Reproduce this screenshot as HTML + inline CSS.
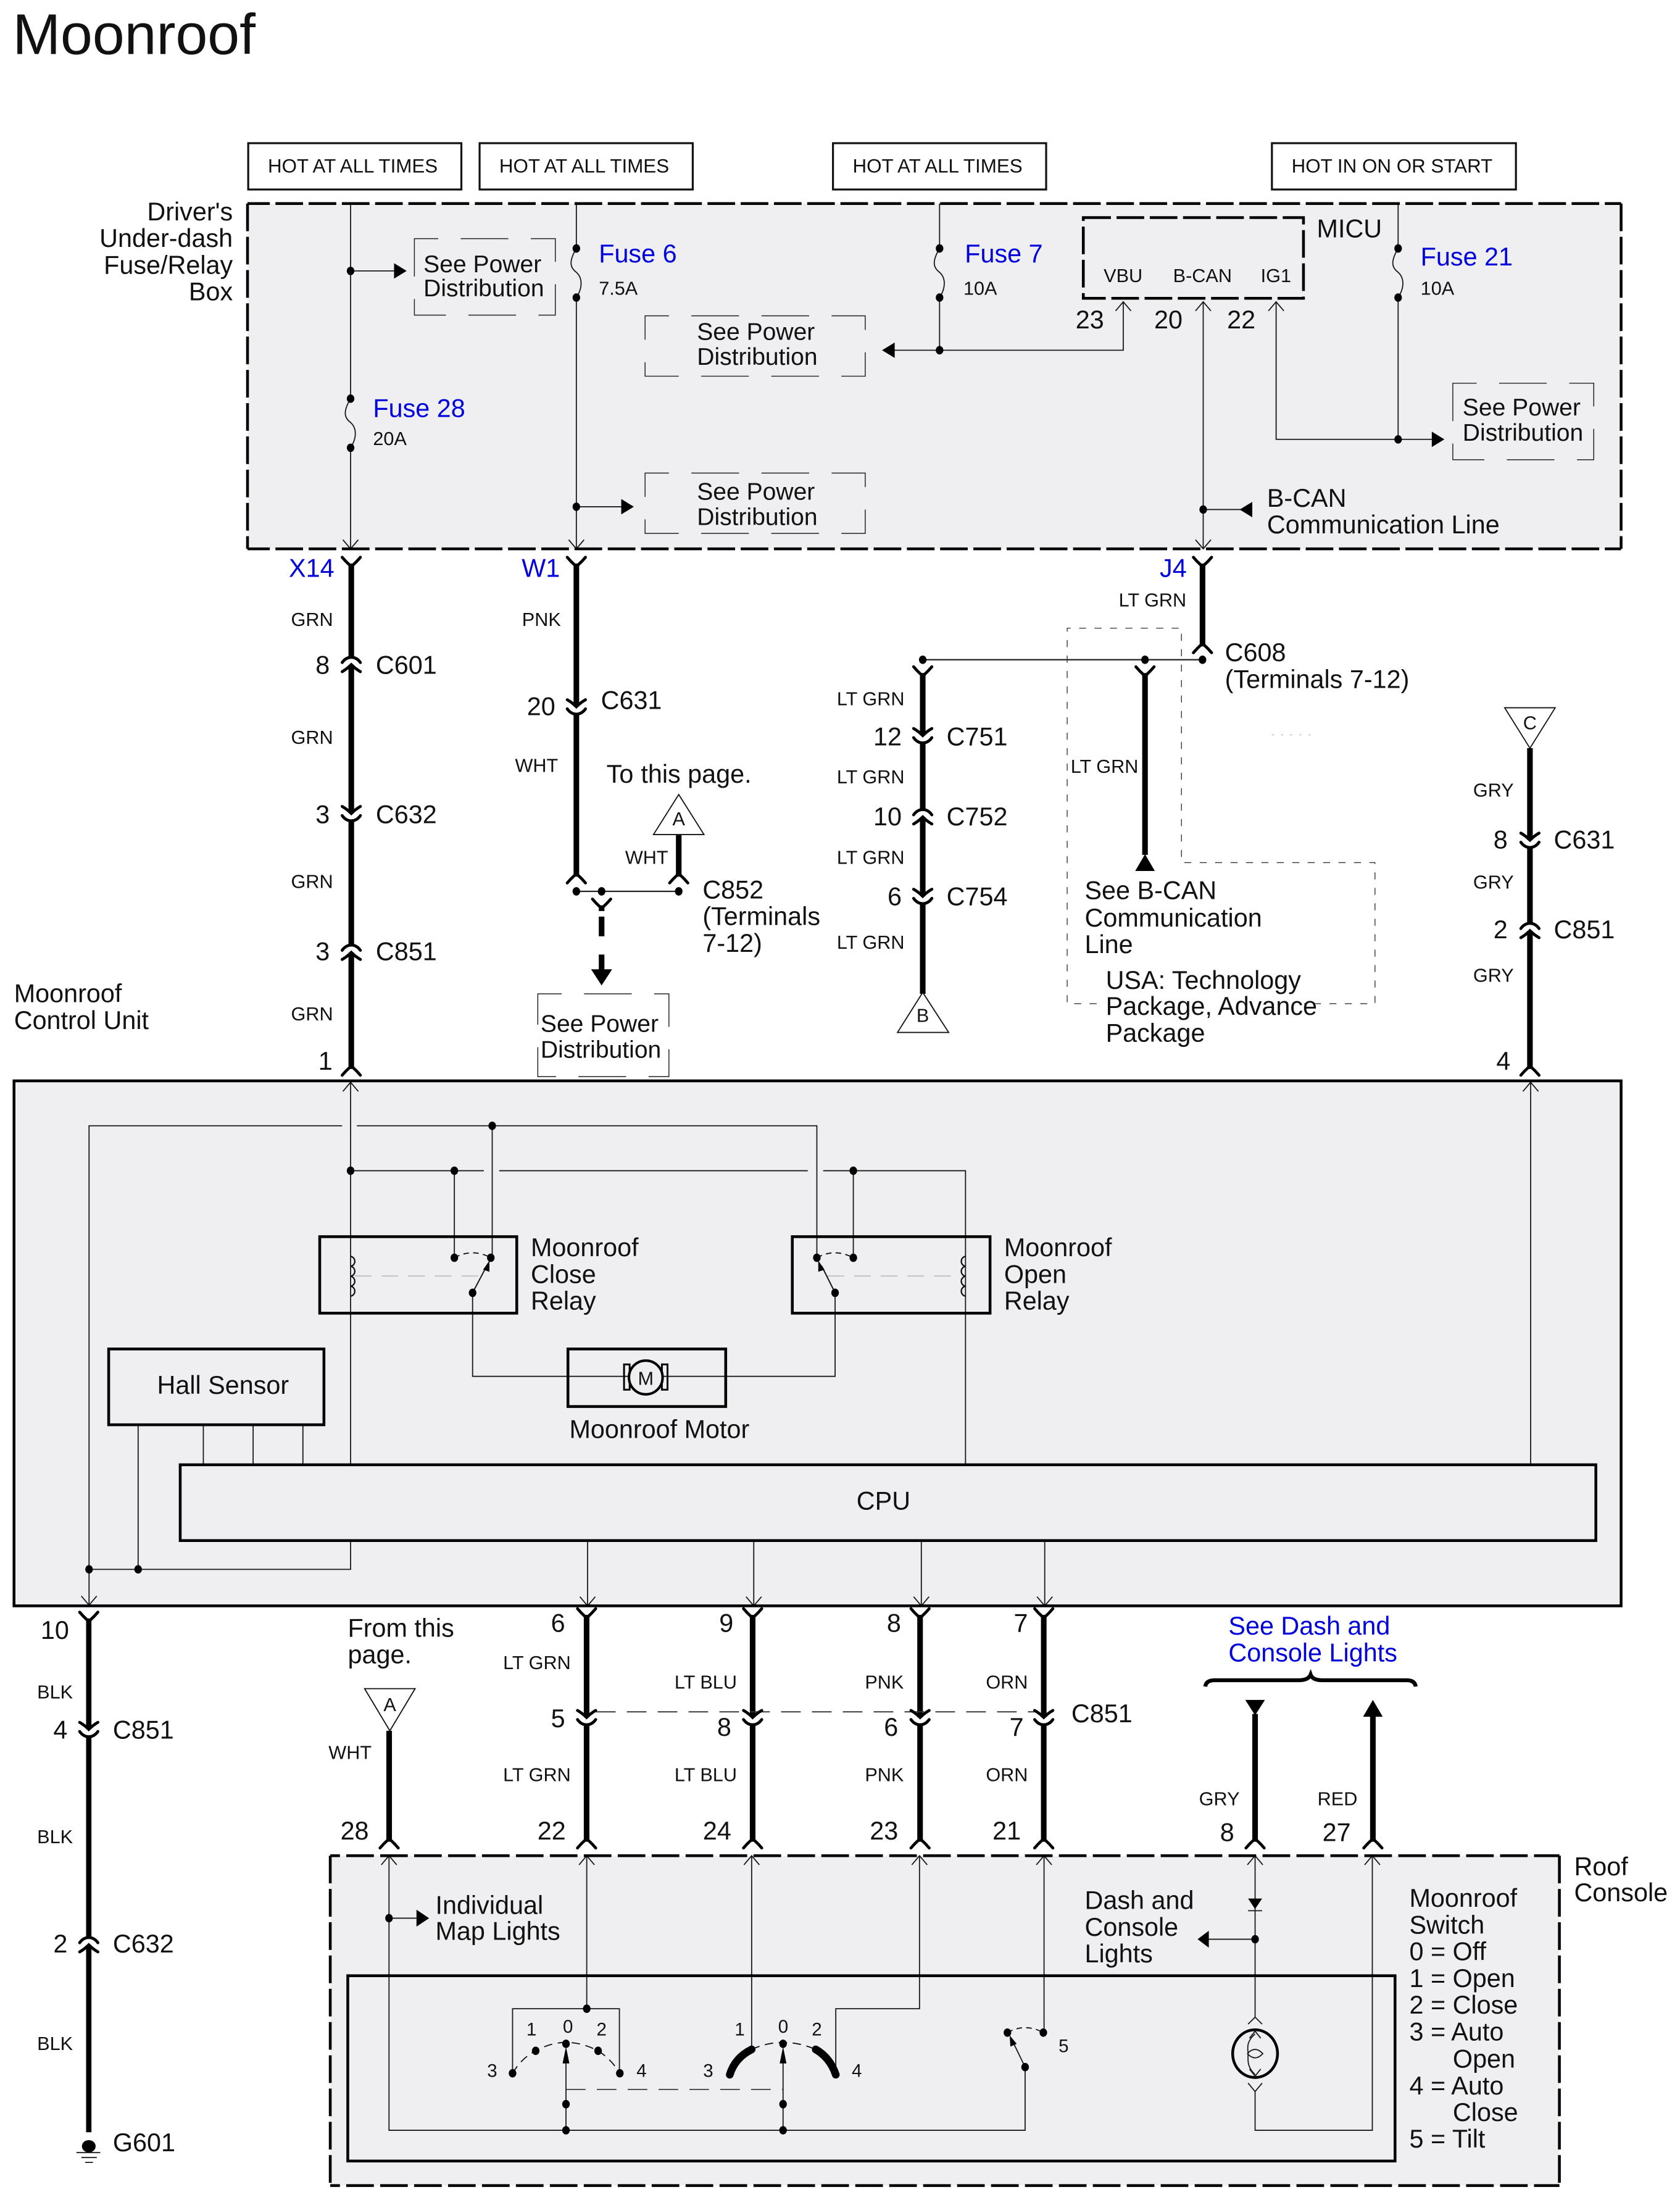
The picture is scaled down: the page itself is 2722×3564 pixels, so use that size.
<!DOCTYPE html>
<html><head><meta charset="utf-8"><title>Moonroof</title>
<style>
html,body{margin:0;padding:0;background:#fff}
svg{display:block}
text{font-family:"Liberation Sans",Arial,sans-serif;fill:#111}
.m{font-size:18.2px}.p{font-size:17.2px}.s{font-size:13.5px}.h{font-size:13.8px}
.b{fill:#0000dc}.e{text-anchor:end}.c{text-anchor:middle}
.t{fill:none;stroke:#1a1a1a;stroke-width:.8}
.w{fill:none;stroke:#000;stroke-width:4}
.k{fill:none;stroke:#000;stroke-width:2}
.o{fill:none;stroke:#000;stroke-width:2;stroke-dasharray:19.7 4}
.r{fill:none;stroke:#000;stroke-width:2;stroke-dasharray:19.7 4.5;stroke-dashoffset:12.8}
.d{fill:none;stroke:#222;stroke-width:.65;stroke-dasharray:34 16;stroke-dashoffset:17}
.f{fill:#000;stroke:none}
</style></head><body>
<svg xmlns="http://www.w3.org/2000/svg" width="2722" height="3564" viewBox="0 0 1198 1567.27" preserveAspectRatio="none">
<defs>
<g id="yd"><path d="M-6.5,-5.5 Q-4,-2.5 -1.2,0 L1.2,0 Q4,-2.5 6.5,-5.5" fill="none" stroke="#000" stroke-width="2.1" stroke-linecap="round"/></g>
<g id="yu"><use href="#yd" transform="scale(1,-1)"/></g>
<g id="cd"><rect x="-3" y="-.6" width="6" height="4.3" fill="#fff"/><path d="M-6.5,-5.5 Q-3,-3.5 0,-.5 Q3,-3.5 6.5,-5.5" fill="none" stroke="#000" stroke-width="2.1" stroke-linecap="round"/><path d="M-6.5,1 Q-4,4.6 0,4.8 Q4,4.6 6.5,1" fill="none" stroke="#000" stroke-width="2.1" stroke-linecap="round"/></g>
<g id="cu"><use href="#cd" transform="scale(1,-1)"/></g>
<g id="ad"><path d="M-5.5,-6.5 L0,0 L5.5,-6.5" class="t"/></g>
<g id="au"><path d="M-5.5,6.5 L0,0 L5.5,6.5" class="t"/></g>
<ellipse id="dot" rx="2.7" ry="3" fill="#000"/>
<g id="fuse"><path d="M0,0 C-6,10 -4,14 0,17 C4.5,21 4.5,28 0,35" class="t"/><use href="#dot"/><use href="#dot" y="35"/></g>
</defs>

<text x="9" y="38.5" style="font-size:41px">Moonroof</text>

<!-- Hot boxes -->
<g fill="#fff" stroke="#111" stroke-width="1.4">
<rect x="177" y="102" width="152" height="33"/><rect x="342" y="102" width="152" height="33"/>
<rect x="594" y="102" width="152" height="33"/><rect x="907" y="102" width="174" height="33"/>
</g>
<text class="h" x="191" y="123">HOT AT ALL TIMES</text>
<text class="h" x="356" y="123">HOT AT ALL TIMES</text>
<text class="h" x="608" y="123">HOT AT ALL TIMES</text>
<text class="h" x="921" y="123">HOT IN ON OR START</text>

<!-- Fuse box -->
<rect x="176.5" y="145" width="979.5" height="246" fill="#efeff1"/>
<g class="m e"><text class="e" x="166" y="157">Driver's</text><text class="e" x="166" y="176">Under-dash</text><text class="e" x="166" y="195">Fuse/Relay</text><text class="e" x="166" y="214">Box</text></g>

<rect class="d" x="295.5" y="170" width="100.5" height="54.5"/>
<rect class="d" x="460" y="225" width="157" height="43"/>
<rect class="d" x="460" y="337" width="157" height="43"/>
<rect class="d" x="1036" y="273" width="100.5" height="54.5"/>
<g class="p">
<text x="302" y="194">See Power</text><text x="302" y="211">Distribution</text>
<text x="497" y="242">See Power</text><text x="497" y="260">Distribution</text>
<text x="497" y="356">See Power</text><text x="497" y="374">Distribution</text>
<text x="1043" y="296">See Power</text><text x="1043" y="314">Distribution</text>
</g>

<g class="t">
<path d="M250,145V284M250,319V391"/>
<path d="M411,145V177M411,212V391"/>
<path d="M670,145V177M670,212V249.5H801V215"/>
<path d="M670,249.5H636"/>
<path d="M858,215V391"/>
<path d="M910,215V313H1022"/>
<path d="M997,145V177M997,212V313"/>
<path d="M250,193H281M411,361H443M858,363H886"/>
</g>
<use href="#fuse" x="250" y="284"/><use href="#fuse" x="411" y="177"/>
<use href="#fuse" x="670" y="177"/><use href="#fuse" x="997" y="177"/>
<use href="#dot" x="250" y="193"/><use href="#dot" x="411" y="361"/>
<use href="#dot" x="670" y="249.5"/><use href="#dot" x="997" y="313"/><use href="#dot" x="858" y="363"/>
<path class="f" d="M281,187.5L290,193L281,198.5Z"/>
<path class="f" d="M443,355.5L452,361L443,366.5Z"/>
<path class="f" d="M638,244L629,249.5L638,255Z"/>
<path class="f" d="M1021,307.5L1030,313L1021,318.5Z"/>
<path class="f" d="M893,357.5L884,363L893,368.5Z"/>
<use href="#ad" x="250" y="391"/><use href="#ad" x="411" y="391"/><use href="#ad" x="858" y="391"/>
<use href="#au" x="801" y="215"/><use href="#au" x="858" y="215"/><use href="#au" x="910" y="215"/>
<rect class="o" x="772.5" y="155" width="157" height="57.5"/>
<path class="o" style="stroke-dashoffset:3.8" d="M176.5,145H1156"/>
<path class="o" style="stroke-dashoffset:3.8" d="M176.5,391H1156"/>
<path class="o" d="M176.5,145V391"/>
<path class="o" d="M1156,145V391"/>

<g class="m">
<text class="b" x="266" y="297">Fuse 28</text><text class="b" x="427" y="187">Fuse 6</text>
<text class="b" x="688" y="187">Fuse 7</text><text class="b" x="1013" y="189">Fuse 21</text>
<text x="939" y="169">MICU</text>
<text x="767" y="234">23</text><text x="823" y="234">20</text><text x="875" y="234">22</text>
<text x="903.5" y="361">B-CAN</text><text x="903.5" y="380">Communication Line</text>
</g>
<g class="s">
<text x="266" y="317">20A</text><text x="427" y="210">7.5A</text><text x="687" y="210">10A</text><text x="1013" y="210">10A</text>
<text x="787" y="201">VBU</text><text x="836.5" y="201">B-CAN</text><text x="899" y="201">IG1</text>
</g>

<!-- X14 wire -->
<path class="w" d="M250.5,402V760"/>
<use href="#yd" x="250.5" y="402.5"/><use href="#cu" x="250.5" y="473"/><use href="#cd" x="250.5" y="580"/><use href="#cu" x="250.5" y="678"/><use href="#yu" x="250.5" y="760.5"/>
<text class="m b" x="206" y="411">X14</text>
<g class="m"><text x="225" y="480">8</text><text x="225" y="586.5">3</text><text x="225" y="684">3</text><text x="227" y="762">1</text>
<text x="268" y="480">C601</text><text x="268" y="586.5">C632</text><text x="268" y="684">C851</text></g>
<g class="s e"><text class="e" x="237.5" y="446">GRN</text><text class="e" x="237.5" y="530">GRN</text><text class="e" x="237.5" y="632.5">GRN</text><text class="e" x="237.5" y="727">GRN</text></g>

<!-- W1 wire -->
<path class="w" d="M411,402V623"/>
<use href="#yd" x="411" y="402.5"/><use href="#cd" x="411" y="504"/><use href="#yu" x="411" y="623.5"/>
<text class="m b" x="372" y="411">W1</text>
<text class="s e" x="400" y="446">PNK</text><text class="s e" x="398" y="550">WHT</text>
<text class="m e" x="396" y="509.5">20</text><text class="m" x="428.5" y="505">C631</text>
<text class="m" y="557.5"><tspan x="432.5">To</tspan><tspan x="457">this page.</tspan></text>
<path d="M484,566L466,594.5H502Z" fill="#fff" stroke="#111" stroke-width=".8"/>
<text class="s c" x="484" y="588">A</text>
<path class="w" d="M484,595V623"/><use href="#yu" x="484" y="623.5"/>
<text class="s e" x="476.5" y="615.5">WHT</text>
<path d="M411,635H484" fill="none" stroke="#222" stroke-width="1"/>
<use href="#dot" x="411" y="635"/><use href="#dot" x="429" y="635"/><use href="#dot" x="484" y="635"/>
<use href="#yd" x="429" y="646"/>
<path class="w" d="M429,646V649M429,653V667M429,680V692"/>
<path class="f" d="M421.5,690.5H436.5L429,702Z"/>
<g class="m"><text x="501" y="640">C852</text><text x="501" y="659">(Terminals</text><text x="501" y="678">7-12)</text></g>
<rect x="383.5" y="708" width="93.5" height="59" class="d"/>
<text class="p" x="385.5" y="735">See Power</text><text class="p" x="385.5" y="753.5">Distribution</text>

<!-- J4 / LT GRN group -->
<path class="w" d="M857.5,402V459"/>
<use href="#yd" x="857.5" y="402.5"/><use href="#yu" x="857.5" y="459.5"/>
<text class="m b" x="827" y="411">J4</text>
<text class="s e" x="846" y="432">LT GRN</text>
<path d="M658,470H857" fill="none" stroke="#222" stroke-width="1"/>
<use href="#dot" x="658" y="470"/><use href="#dot" x="816.5" y="470"/><use href="#dot" x="857.5" y="470"/>
<g class="m"><text x="873.5" y="471">C608</text><text x="873.5" y="490">(Terminals 7-12)</text></g>
<path class="w" d="M658,480V708"/>
<use href="#yd" x="658" y="480.5"/><use href="#cd" x="658" y="524.5"/><use href="#cu" x="658" y="581.5"/><use href="#cd" x="658" y="639"/>
<path d="M658,707L640,735.5H676.5Z" fill="#fff" stroke="#111" stroke-width=".8"/>
<text class="s c" x="658" y="728">B</text>
<g class="s e"><text class="e" x="645" y="502.5">LT GRN</text><text class="e" x="645" y="558">LT GRN</text><text class="e" x="645" y="615.5">LT GRN</text><text class="e" x="645" y="676">LT GRN</text></g>
<g class="m"><text class="e" x="643" y="531">12</text><text class="e" x="643" y="588">10</text><text class="e" x="643" y="645">6</text>
<text x="675" y="531">C751</text><text x="675" y="588">C752</text><text x="675" y="645">C754</text></g>
<path class="w" d="M816.5,480V609"/><use href="#yd" x="816.5" y="480.5"/>
<path class="f" d="M816.5,608.5L823.5,620.5H809.5Z"/>
<path d="M782,715H761V447.5H842.5V614.5H980.5V715H930" fill="none" stroke="#333" stroke-width=".6" stroke-dasharray="5 6"/>
<path d="M907,523.5H936" fill="none" stroke="#99a" stroke-width=".4" stroke-dasharray="1.5 5"/>
<text class="s" x="763.5" y="550.5">LT GRN</text>
<g class="m"><text x="773.5" y="640.5">See B-CAN</text><text x="773.5" y="660">Communication</text><text x="773.5" y="679">Line</text>
<text x="788.5" y="704.5">USA: Technology</text><text x="788.5" y="723">Package, Advance</text><text x="788.5" y="742">Package</text></g>

<!-- C wire -->
<path d="M1091,533L1073,504.2H1109Z" fill="#fff" stroke="#111" stroke-width=".8"/>
<text class="s c" x="1091" y="519.5">C</text>
<path class="w" d="M1091,533V760"/>
<use href="#cd" x="1091" y="599"/><use href="#cu" x="1091" y="662.5"/><use href="#yu" x="1091" y="760.5"/>
<g class="s e"><text class="e" x="1079.5" y="567.5">GRY</text><text class="e" x="1079.5" y="633">GRY</text><text class="e" x="1079.5" y="699.5">GRY</text></g>
<g class="m"><text x="1065" y="604.5">8</text><text x="1065" y="668.5">2</text><text x="1067" y="762">4</text>
<text x="1108" y="604.5">C631</text><text x="1108" y="668.5">C851</text></g>

<text class="m" x="10" y="714">Moonroof</text><text class="m" x="10" y="733">Control Unit</text>

<!-- Control unit -->
<rect x="10" y="770" width="1146" height="374" fill="#efeff1"/>
<g class="t">
<path d="M250,771V1043"/>
<path d="M1091.5,771V1043"/>
<path d="M250,1098V1118H63.5"/>
<path d="M63.5,1143.5V802H244M254.5,802H582.5V896"/>
<path d="M351,802V896"/>
<path d="M250,834H345M356,834H576M587,834H688.5V1043"/>
<path d="M324,834V896M608.5,834V896"/>
<path d="M337,921V980.5H405M517,980.5H595.5V921"/>
<path d="M405,980.5H448M473,980.5H517"/>
<path d="M98.5,1015V1118M145,1015V1043M180.5,1015V1043M216,1015V1043"/>
<path d="M419,1098V1144M537.5,1098V1144M657,1098V1144M745,1098V1144"/>
</g>
<use href="#au" x="250" y="771"/><use href="#au" x="1091.5" y="771"/>
<use href="#ad" x="63.5" y="1143.5"/><use href="#ad" x="419" y="1144"/><use href="#ad" x="537.5" y="1144"/><use href="#ad" x="657" y="1144"/><use href="#ad" x="745" y="1144"/>
<use href="#dot" x="351" y="802"/><use href="#dot" x="250" y="834"/><use href="#dot" x="324" y="834"/><use href="#dot" x="608.5" y="834"/>
<use href="#dot" x="63.5" y="1118"/><use href="#dot" x="98.5" y="1118"/>

<!-- relays -->
<g class="k">
<rect x="228" y="881" width="140.5" height="54.5"/>
<rect x="565" y="881" width="141" height="54.5"/>
<rect x="405" y="961" width="112.5" height="41"/>
<rect x="77.5" y="961" width="153.5" height="54"/>
<rect x="128.5" y="1043.5" width="1009.5" height="54"/>
<rect x="10" y="770" width="1146" height="374"/>
</g>
<path fill="none" stroke="#111" stroke-width="1" d="M250,895a3.6,3.6 0 0 1 0,7.1a3.6,3.6 0 0 1 0,7.1a3.6,3.6 0 0 1 0,7.1a3.6,3.6 0 0 1 0,7.1"/>
<path fill="none" stroke="#111" stroke-width="1" d="M688.5,895a3.6,3.6 0 0 0 0,7.1a3.6,3.6 0 0 0 0,7.1a3.6,3.6 0 0 0 0,7.1a3.6,3.6 0 0 0 0,7.1"/>
<path d="M253,909H343M590,909H685" fill="none" stroke="#bbb" stroke-width=".7" stroke-dasharray="12 7"/>
<path d="M324,896Q337,889 350,896M582.5,896Q595,889 608.5,896" fill="none" stroke="#111" stroke-width=".8" stroke-dasharray="4 3"/>
<path d="M337,921L347,902M595.5,921L586,902" class="t" style="stroke-width:.9"/>
<path class="f" d="M349,898L349,906L344.5,904.5Z"/><path class="f" d="M583.5,898L583.5,906L588,904.5Z"/>
<use href="#dot" x="324" y="896"/><use href="#dot" x="350" y="896"/><use href="#dot" x="337" y="921"/>
<use href="#dot" x="582.5" y="896"/><use href="#dot" x="608.5" y="896"/><use href="#dot" x="595.5" y="921"/>
<!-- motor -->
<rect x="445" y="972" width="4" height="18" fill="none" stroke="#000" stroke-width="1.3"/>
<rect x="472" y="972" width="4" height="18" fill="none" stroke="#000" stroke-width="1.3"/>
<circle cx="460.5" cy="981.3" r="12" fill="#efeff1" stroke="#000" stroke-width="1.8"/>
<text class="s c" x="460.5" y="986.5">M</text>
<g class="m"><text x="378.5" y="895">Moonroof</text><text x="378.5" y="914">Close</text><text x="378.5" y="933">Relay</text>
<text x="716" y="895">Moonroof</text><text x="716" y="914">Open</text><text x="716" y="933">Relay</text>
<text x="406" y="1024.5">Moonroof Motor</text><text x="112" y="993">Hall Sensor</text>
<text class="c" x="630" y="1075.5">CPU</text></g>

<!-- lower-left ground wire -->
<path d="M63.3,1154V1519" fill="none" stroke="#000" stroke-width="3.8"/>
<use href="#yd" x="63.3" y="1154"/><use href="#cd" x="63.3" y="1232.5"/><use href="#cu" x="63.3" y="1385"/>
<ellipse cx="63.3" cy="1529" rx="4.9" ry="4.4" fill="#000"/>
<path d="M54.5,1533.5H71.5M58,1537H69M60.7,1540.5H66.3" class="t"/>
<g class="m"><text x="29" y="1167.5">10</text><text x="38" y="1238.5">4</text><text x="38" y="1391">2</text>
<text x="80.5" y="1238.5">C851</text><text x="80.5" y="1391">C632</text><text x="80.5" y="1532.5">G601</text></g>
<g class="s e"><text class="e" x="52" y="1210">BLK</text><text class="e" x="52" y="1313">BLK</text><text class="e" x="52" y="1460.5">BLK</text></g>

<g class="m"><text x="248" y="1166">From this</text><text x="248" y="1185">page.</text></g>
<path d="M278,1233L260,1203H296Z" fill="#fff" stroke="#111" stroke-width=".8"/>
<text class="s c" x="278" y="1219">A</text>
<path class="w" d="M277.5,1233V1311"/><use href="#yu" x="277.5" y="1311"/>
<text class="s e" x="265" y="1253">WHT</text>

<!-- four wires -->
<path class="w" d="M418.3,1151V1311M536.7,1151V1311M656.1,1151V1311M744.3,1151V1311"/>
<path d="M425,1219.5H738" fill="none" stroke="#333" stroke-width=".8" stroke-dasharray="14 8"/>
<use href="#yd" x="418.3" y="1151.5"/><use href="#yd" x="536.7" y="1151.5"/><use href="#yd" x="656.1" y="1151.5"/><use href="#yd" x="744.3" y="1151.5"/>
<use href="#cd" x="418.3" y="1224"/><use href="#cd" x="536.7" y="1224"/><use href="#cd" x="656.1" y="1224"/><use href="#cd" x="744.3" y="1224"/>
<use href="#yu" x="418.3" y="1311"/><use href="#yu" x="536.7" y="1311"/><use href="#yu" x="656.1" y="1311"/><use href="#yu" x="744.3" y="1311"/>
<g class="m">
<text class="e" x="403" y="1162.5">6</text><text class="e" x="523" y="1162.5">9</text><text class="e" x="642.5" y="1162.5">8</text><text class="e" x="733" y="1162.5">7</text>
<text class="e" x="403" y="1230.5">5</text><text class="e" x="521.5" y="1236.5">8</text><text class="e" x="640.5" y="1236.5">6</text><text class="e" x="730" y="1236.5">7</text>
<text class="e" x="403.5" y="1310.5">22</text><text class="e" x="521.5" y="1310.5">24</text><text class="e" x="640.5" y="1310.5">23</text><text class="e" x="728" y="1310.5">21</text>
<text x="764" y="1227">C851</text>
<text class="e" x="263" y="1310.5">28</text>
<text x="870" y="1311.5">8</text><text x="943" y="1311.5">27</text>
</g>
<g class="s e">
<text class="e" x="407" y="1189">LT GRN</text><text class="e" x="525.5" y="1203">LT BLU</text><text class="e" x="644.5" y="1203">PNK</text><text class="e" x="733" y="1203">ORN</text>
<text class="e" x="407" y="1269">LT GRN</text><text class="e" x="525.5" y="1269">LT BLU</text><text class="e" x="644.5" y="1269">PNK</text><text class="e" x="733" y="1269">ORN</text>
<text class="e" x="884" y="1286">GRY</text><text class="e" x="968" y="1286">RED</text>
</g>

<text class="m b" x="876" y="1164.5">See Dash and</text><text class="m b" x="876" y="1183.5">Console Lights</text>
<path d="M859.5,1201.5Q860,1197 866,1197H926Q933,1197 934.6,1193Q936,1197 943,1197H1003Q1009,1197 1009.5,1201.5" fill="none" stroke="#000" stroke-width="2.8"/>
<path class="f" d="M888,1211H902L895,1222Z"/>
<path class="f" d="M979,1211L986,1223H972Z"/>
<path class="w" d="M895,1221V1311M979,1222V1311"/>
<use href="#yu" x="895" y="1311"/><use href="#yu" x="979" y="1311"/>

<!-- Roof console -->
<rect x="235.5" y="1322" width="876.5" height="235" fill="#efeff1"/>
<g class="t">
<path d="M277.4,1322V1517.6H731V1473"/>
<path d="M277.4,1366.5H297"/>
<path d="M418.4,1322V1431M365.5,1477V1431H441.7V1477"/>
<path d="M536,1322V1460"/>
<path d="M655.7,1322V1431H596V1478"/>
<path d="M744.5,1322V1448"/>
<path d="M895,1322V1437"/>
<path d="M895,1381.5H862"/>
<path d="M895,1490V1517.6H978.6V1322"/>
<path d="M403.6,1517.6V1468M558.4,1517.6V1468"/>
</g>
<use href="#au" x="277.4" y="1322"/><use href="#au" x="418.4" y="1322"/><use href="#au" x="536" y="1322"/><use href="#au" x="655.7" y="1322"/><use href="#au" x="744.5" y="1322"/><use href="#au" x="895" y="1322"/><use href="#au" x="978.6" y="1322"/>
<use href="#dot" x="277.4" y="1366.5"/><path class="f" d="M297,1360.5L306,1366.5L297,1372.5Z"/>
<use href="#dot" x="895" y="1381.5"/><path class="f" d="M862,1375.5L854,1381.5L862,1387.5Z"/>
<path class="f" d="M890,1352.5H900L895,1360Z"/><path d="M890,1361.2H900" class="t"/>
<rect class="k" x="248" y="1407.5" width="746.8" height="132"/>
<path class="r" d="M235.5,1322H1112"/>
<path class="r" d="M235.5,1557H1112"/>
<path class="o" d="M235.5,1322V1557"/>
<path class="o" d="M1112,1322V1557"/>

<!-- switch contacts -->
<path d="M365.5,1477Q372,1466 382,1461Q393,1455 403.6,1455Q415,1455 426.5,1461Q436,1467 442,1477" fill="none" stroke="#111" stroke-width=".8" stroke-dasharray="6 4"/>
<path d="M536,1460Q547,1455 558.4,1455Q570,1455 581.7,1460" fill="none" stroke="#111" stroke-width=".8" stroke-dasharray="6 4"/>
<path d="M520.4,1478Q524,1466 536,1460M581.7,1460Q592,1466 596,1478" fill="none" stroke="#000" stroke-width="5.5" stroke-linecap="round"/>
<path class="f" d="M403.6,1458L406,1470H401.2Z"/><path class="f" d="M558.4,1458L560.8,1470H556Z"/>
<path d="M403.6,1488.5H558.4" fill="none" stroke="#222" stroke-width=".7" stroke-dasharray="14 8"/>
<use href="#dot" x="418.4" y="1431"/>
<use href="#dot" x="365.5" y="1477"/><use href="#dot" x="382" y="1461"/><use href="#dot" x="403.6" y="1456"/><use href="#dot" x="426.5" y="1461"/><use href="#dot" x="442" y="1477"/>
<use href="#dot" x="558.4" y="1456"/>
<use href="#dot" x="403.6" y="1499"/><use href="#dot" x="403.6" y="1517.6"/><use href="#dot" x="558.4" y="1499"/><use href="#dot" x="558.4" y="1517.6"/>
<g class="s c" style="font-size:13px">
<text class="c" x="379" y="1450">1</text><text class="c" x="405" y="1448">0</text><text class="c" x="429" y="1450">2</text><text class="c" x="351" y="1479.5">3</text><text class="c" x="457.5" y="1479.5">4</text>
<text class="c" x="527.5" y="1450">1</text><text class="c" x="558.5" y="1448">0</text><text class="c" x="582.5" y="1450">2</text><text class="c" x="505" y="1479.5">3</text><text class="c" x="611" y="1479.5">4</text>
<text class="c" x="758.5" y="1462">5</text>
</g>
<!-- tilt switch -->
<path d="M718.4,1448Q731,1441 744,1448" fill="none" stroke="#111" stroke-width=".8" stroke-dasharray="4 3"/>
<path class="t" d="M731,1472.6L722,1454"/><path class="f" d="M720,1450L725,1456L720.5,1458Z"/>
<use href="#dot" x="718.4" y="1448"/><use href="#dot" x="744" y="1448"/><use href="#dot" x="731" y="1472.6"/>
<!-- bulb -->
<path d="M890,1442L895,1437L900,1442" class="t"/>
<path d="M890,1484L895,1490L900,1484" class="t"/>
<ellipse cx="895" cy="1463" rx="16" ry="17" fill="none" stroke="#000" stroke-width="2"/>
<path class="t" d="M895,1449C888,1455 890,1460 890,1463C890,1468 889,1472 895,1478"/>
<path class="t" d="M889.5,1463Q895,1457 900.5,1463Q895,1469 889.5,1463"/>
<path class="t" d="M891,1452L895,1447L899,1452M891,1474L895,1479L899,1474"/>

<g class="m">
<text x="310.5" y="1363.5">Individual</text><text x="310.5" y="1382">Map Lights</text>
<text x="773.5" y="1360">Dash and</text><text x="773.5" y="1379">Console</text><text x="773.5" y="1398">Lights</text>
<text x="1005" y="1358.5">Moonroof</text><text x="1005" y="1377.5">Switch</text>
<text x="1005" y="1396.5">0 = Off</text><text x="1005" y="1415.5">1 = Open</text><text x="1005" y="1434.5">2 = Close</text>
<text x="1005" y="1453.5">3 = Auto</text><text x="1036" y="1473">Open</text>
<text x="1005" y="1492">4 = Auto</text><text x="1036" y="1511">Close</text><text x="1005" y="1530">5 = Tilt</text>
<text x="1122.5" y="1336">Roof</text><text x="1122.5" y="1354.5">Console</text>
</g>
</svg>
</body></html>
